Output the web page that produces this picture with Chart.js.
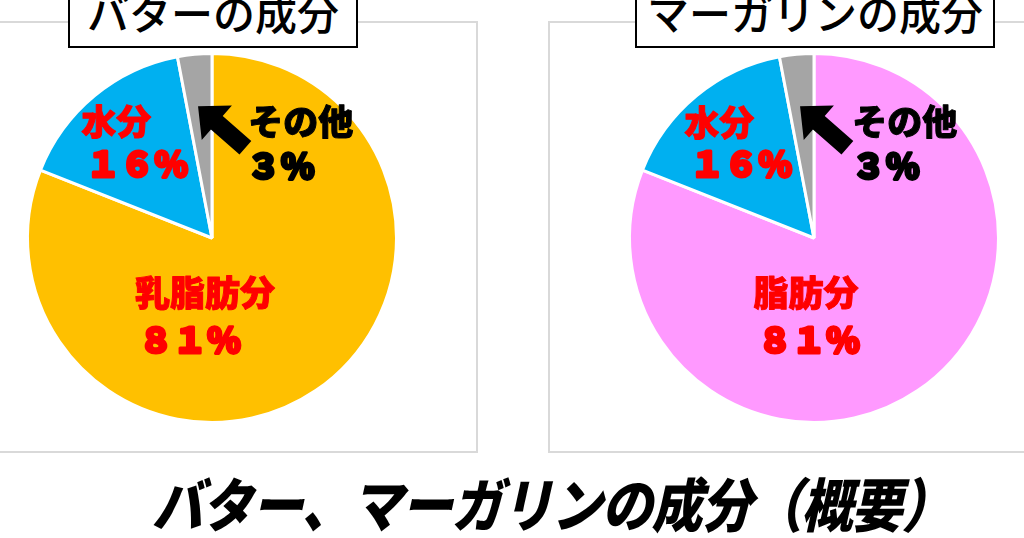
<!DOCTYPE html>
<html lang="ja">
<head>
<meta charset="utf-8">
<script src="https://cdn.jsdelivr.net/npm/chart.js@4/dist/chart.umd.min.js"></script>
<style>
  html, body { margin: 0; padding: 0; background: #fff; overflow: hidden; }
  body { width: 1024px; height: 538px; position: relative; font-family: "Noto Sans CJK JP", sans-serif; }
  .panel { position: absolute; top: 21px; width: 532px; height: 432px; border: 2px solid #d9d9d9; box-sizing: border-box; }
  .chartBox { position: absolute; top: 21px; width: 532px; height: 432px; }
  .titleBox {
    position: absolute; top: -14px; height: 62px; box-sizing: border-box;
    border: 2px solid #000; background: #fff;
    font-size: 42px; font-weight: 500; line-height: 48px; text-align: center; color: #000;
    white-space: nowrap; overflow: hidden;
  }
  .mainTitle {
    position: absolute; left: 152px; top: 468px;
    font-size: 51px; font-weight: 900; font-style: italic; line-height: 60px;
    letter-spacing: -1px; transform: scaleY(1.14); transform-origin: left top; white-space: nowrap;
  }
</style>
</head>
<body>
<div class="panel" style="left:-54px"></div>
<div class="panel" style="left:548px"></div>
<div class="chartBox" style="left:-54px"><canvas id="butterChart"></canvas></div>
<div class="chartBox" style="left:548px"><canvas id="margarineChart"></canvas></div>
<div class="titleBox" style="left:68px;width:290px;">バターの成分</div>
<div class="titleBox" style="left:635px;width:360px;">マーガリンの成分</div>
<div class="mainTitle">バター、マーガリンの成分（概要）</div>

<script>
// ---- data ----
const butterLabels = ['乳脂肪分', '水分', 'その他'];
const butterValues = [81, 16, 3];
const margarineLabels = ['脂肪分', '水分', 'その他'];
const margarineValues = [81, 16, 3];

const butterColors = ['#FFC000', '#00B0F0', '#A5A5A5'];
const margarineColors = ['#FF99FF', '#00B0F0', '#A5A5A5'];

// label placement (px offset from pie centre at radius 185): [nameDx, nameDy, valueDx, valueDy, color]
const butterLabelPos = [
  [-7, 55, -22, 102, '#FF0000'],
  [-96, -117, -75, -74, '#FF0000'],
  [89, -117, 69, -72, '#000000'],
];
const margarineLabelPos = [
  [-8, 55, -5, 102, '#FF0000'],
  [-95, -116, -73, -74, '#FF0000'],
  [91, -117, 72, -72, '#000000'],
];

const toFullWidth = (n) => String(n).replace(/[0-9]/g, (d) => String.fromCharCode(d.charCodeAt(0) + 0xFEE0)) + '％';

// draws the in-slice labels and the arrow pointing at the small slice
const sliceLabelPlugin = {
  id: 'sliceLabels',
  afterDatasetsDraw(chart, args, opts) {
    const ctx = chart.ctx;
    const arc = chart.getDatasetMeta(0).data[0];
    const cx = arc.x, cy = arc.y, k = arc.outerRadius / 185;
    const labels = chart.data.labels;
    const values = chart.data.datasets[0].data;

    ctx.save();
    ctx.textAlign = 'center';
    ctx.textBaseline = 'middle';
    ctx.lineJoin = 'round';
    labels.forEach((name, i) => {
      const p = opts.pos[i];
      ctx.fillStyle = p[4];
      ctx.strokeStyle = p[4];
      ctx.font = '900 35px "Noto Sans CJK JP", sans-serif';
      ctx.lineWidth = 1;
      ctx.fillText(name, cx + p[0] * k, cy + p[1] * k);
      ctx.strokeText(name, cx + p[0] * k, cy + p[1] * k);
      const txt = toFullWidth(values[i]);
      ctx.font = '900 34px "Noto Sans CJK JP", sans-serif';
      ctx.lineWidth = 3;
      ctx.fillText(txt, cx + p[2] * k, cy + p[3] * k);
      ctx.strokeText(txt, cx + p[2] * k, cy + p[3] * k);
    });

    // arrow: tip, direction toward tail
    const tipX = cx - 14 * k, tipY = cy - 132 * k;
    const ang = Math.atan2(41, 47);
    const ux = Math.cos(ang), uy = Math.sin(ang);
    const vx = -uy, vy = ux;
    const headLen = 25 * k, headW = 23 * k, shaftW = 9 * k, len = 63 * k;
    const bx = tipX + ux * headLen, by = tipY + uy * headLen;
    const ex = tipX + ux * len, ey = tipY + uy * len;
    ctx.fillStyle = '#000';
    ctx.beginPath();
    ctx.moveTo(tipX, tipY);
    ctx.lineTo(bx + vx * headW, by + vy * headW);
    ctx.lineTo(bx + vx * shaftW, by + vy * shaftW);
    ctx.lineTo(ex + vx * shaftW, ey + vy * shaftW);
    ctx.lineTo(ex - vx * shaftW, ey - vy * shaftW);
    ctx.lineTo(bx - vx * shaftW, by - vy * shaftW);
    ctx.lineTo(bx - vx * headW, by - vy * headW);
    ctx.closePath();
    ctx.fill();
    ctx.restore();
  }
};

function makePie(canvasId, labels, values, colors, labelPos) {
  return new Chart(document.getElementById(canvasId), {
    type: 'pie',
    data: {
      labels: labels,
      datasets: [{
        data: values,
        backgroundColor: colors,
        borderColor: '#ffffff',
        borderWidth: 3,
      }],
    },
    options: {
      responsive: true,
      maintainAspectRatio: false,
      animation: false,
      events: [],
      layout: { padding: { top: 30, bottom: 28, left: 80, right: 80 } },
      plugins: {
        legend: { display: false },
        tooltip: { enabled: false },
        sliceLabels: { pos: labelPos },
      },
    },
    plugins: [sliceLabelPlugin],
  });
}

makePie('butterChart', butterLabels, butterValues, butterColors, butterLabelPos);
makePie('margarineChart', margarineLabels, margarineValues, margarineColors, margarineLabelPos);
</script>
</body>
</html>
